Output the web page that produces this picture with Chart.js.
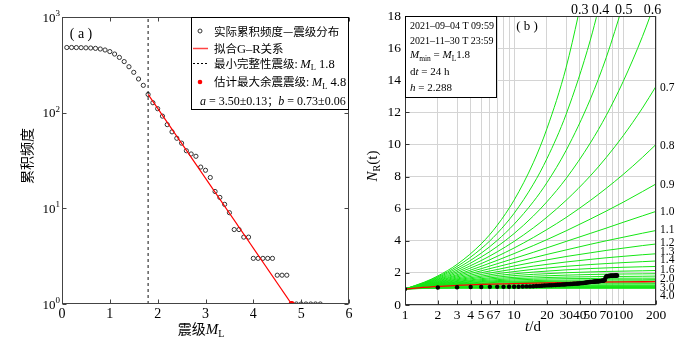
<!DOCTYPE html>
<html><head><meta charset="utf-8">
<script src="https://cdn.jsdelivr.net/npm/chart.js@4.4.1/dist/chart.umd.min.js"></script>
<style>
html,body{margin:0;padding:0;background:#fff;}
#wrap{position:relative;width:700px;height:340px;overflow:hidden;}
#cA{position:absolute;left:0;top:0;}
#cB{position:absolute;left:355px;top:0;}
</style></head><body>
<div id="wrap">
<canvas id="cA" width="355" height="340"></canvas>
<canvas id="cB" width="345" height="340"></canvas>
</div>
<script>
// ---------------- Panel (a) data ----------------
const magnitudeML = [0.1,0.2,0.3,0.4,0.5,0.6,0.7,0.8,0.9,1.0,1.1,1.2,1.3,1.4,1.5,1.6,1.7,1.8,1.9,2.0,2.1,2.2,2.3,2.4,2.5,2.6,2.7,2.8,2.9,3.0,3.1,3.2,3.3,3.4,3.5,3.6,3.7,3.8,3.9,4.0,4.1,4.2,4.3,4.4,4.5,4.6,4.7,4.8,4.9,5.0,5.1,5.2,5.3,5.4];
const cumulativeN = [480,480,479,478,476,474,470,463,452,435,410,378,342,302,264,225,193,155,127,110,92,75,63,54,48,40,37,35,27,25,21,15,13,11,9,6,6,5,5,3,3,3,3,3,2,2,2,1,1,1,1,1,1,1];
const fitM = [1.8, 4.8];
const fitN = [155, 1];
const mcLineM = [1.8, 1.8];
const mcLineN = [1, 1000];
const maxAftershockM = [4.8];
const maxAftershockN = [1];
const xTicksA = [0,1,2,3,4,5,6];
const yTicksA = [1,10,100,1000];
const yTickExpA = ['0','1','2','3'];

// ---------------- Panel (b) data ----------------
const tGridA = [1,1.5,2,3,5,7,10,15,20,30,50,70,100,150,200];
const tGridB = [1,1.5,2,3,5,7,10,20,50,200];
const p03 = [1,1.42,1.81,2.53,3.81,4.96,6.53,8.86,10.98,14.80,21.47];
const p04 = [1,1.40,1.76,2.40,3.51,4.46,5.71,7.52,9.11,11.88,16.50,20.41];
const p05 = [1,1.37,1.71,2.28,3.23,4.02,5.03,6.43,7.62,9.63,12.82,15.42,18.71];
const p06 = [1,1.35,1.66,2.17,2.99,3.64,4.45,5.54,6.43,7.88,10.09,11.81,13.92,16.71,18.99];
const p07 = [1,1.33,1.61,2.07,2.77,3.31,3.96,4.80,5.47,6.52,8.04,9.19,10.54,12.26,13.62];
const p08 = [1,1.31,1.57,1.98,2.58,3.03,3.55,4.20,4.70,5.45,6.51,7.27,8.13,9.19,10.00];
const p09 = [1,1.29,1.53,1.89,2.41,2.78,3.20,3.70,4.07,4.62,5.35,5.85,6.40,7.06,7.54];
const p10 = [1,1.27,1.49,1.82,2.26,2.57,2.90,3.28,3.56,3.96,4.46,4.79,5.15,5.55,5.83];
const p11 = [1,1.26,1.45,1.75,2.13,2.38,2.64,2.94,3.15,3.43,3.78,4.00,4.22,4.47,4.64];
const p12 = [1,1.24,1.42,1.68,2.01,2.21,2.43,2.66,2.81,3.02,3.25,3.40,3.54,3.70,3.80];
const p13 = [1,1.23,1.39,1.62,1.90,2.07,2.24,2.42,2.53,2.68,2.84,2.94,3.03,3.13,3.19];
const p14 = [1,1.21,1.36,1.57,1.80,1.95,2.08,2.22,2.30,2.41,2.52,2.58,2.64,2.70,2.74];
const p15 = [1,1.20,1.33,1.52,1.72,1.84,1.94,2.05,2.11,2.19,2.27,2.31,2.35,2.38,2.40];
const p16 = [1,1.18,1.31,1.47,1.64,1.74,1.83,1.91,1.95,2.01,2.06,2.09,2.11,2.13,2.15];
const p17 = [1,1.17,1.29,1.43,1.58,1.66,1.72,1.79,1.82,1.86,1.90,1.92,1.93,1.94,1.95];
const p18 = [1,1.16,1.26,1.39,1.52,1.58,1.64,1.68,1.71,1.74,1.76,1.78,1.78,1.79,1.80];
const p19 = [1,1.15,1.24,1.36,1.46,1.52,1.56,1.60,1.62,1.64,1.65,1.66,1.67,1.67,1.67];
const p20 = [1,1.14,1.23,1.32,1.42,1.46,1.49,1.52,1.54,1.55,1.56,1.57,1.57,1.57,1.58];
const p21 = [1,1.13,1.21,1.30,1.37,1.41,1.44,1.47,1.49,1.50];
const p22 = [1,1.12,1.19,1.27,1.34,1.36,1.39,1.41,1.42,1.43];
const p24 = [1,1.10,1.16,1.22,1.27,1.29,1.30,1.32,1.32,1.33];
const p26 = [1,1.09,1.14,1.18,1.22,1.23,1.24,1.25,1.25,1.25];
const p28 = [1,1.08,1.12,1.15,1.18,1.19,1.19,1.20,1.20,1.20];
const p30 = [1,1.07,1.10,1.13,1.14,1.15,1.15,1.16,1.16,1.16];
const p32 = [1,1.06,1.08,1.10,1.12,1.12,1.12,1.12,1.12,1.12];
const p34 = [1,1.05,1.07,1.09,1.09,1.10,1.10,1.10,1.10,1.10];
const p36 = [1,1.04,1.06,1.07,1.08,1.08,1.08,1.08,1.08,1.08];
const p38 = [1,1.04,1.05,1.06,1.06,1.06,1.06,1.06,1.06,1.06];
const p40 = [1,1.03,1.04,1.05,1.05,1.05,1.05,1.05,1.05,1.05];
const greenCurves = [
  [tGridA,p03],[tGridA,p04],[tGridA,p05],[tGridA,p06],[tGridA,p07],[tGridA,p08],[tGridA,p09],
  [tGridA,p10],[tGridA,p11],[tGridA,p12],[tGridA,p13],[tGridA,p14],[tGridA,p15],[tGridA,p16],
  [tGridA,p17],[tGridA,p18],[tGridA,p19],[tGridA,p20],
  [tGridB,p21],[tGridB,p22],[tGridB,p24],[tGridB,p26],[tGridB,p28],[tGridB,p30],[tGridB,p32],
  [tGridB,p34],[tGridB,p36],[tGridB,p38],[tGridB,p40]
];
const redT = [1,2,3,5,10,20,50,100,200];
const redN = [1,1.16,1.22,1.28,1.33,1.38,1.42,1.44,1.45];
const dailyNR = [1.00,1.09,1.11,1.12,1.12,1.13,1.13,1.13,1.14,1.14,
  1.14,1.15,1.16,1.16,1.17,1.18,1.19,1.20,1.21,1.22,
  1.23,1.23,1.24,1.25,1.26,1.26,1.27,1.28,1.28,1.29,
  1.30,1.30,1.31,1.31,1.32,1.33,1.33,1.34,1.34,1.35,
  1.36,1.36,1.37,1.38,1.39,1.40,1.41,1.42,1.43,1.43,
  1.44,1.44,1.45,1.45,1.46,1.46,1.47,1.47,1.48,1.48,
  1.49,1.49,1.50,1.51,1.51,1.52,1.54,1.56,1.72,1.78,
  1.80,1.80,1.81,1.81,1.81,1.82,1.82,1.82,1.82,1.83,
  1.83,1.83,1.83,1.83,1.84,1.84,1.84,1.84];
const xGridTicksB = [1,2,3,4,5,6,7,8,9,10,20,30,40,50,60,70,80,90,100,200];
const xLabelTicksB = [1,2,3,4,5,6,7,10,20,30,40,50,70,100,200];
const topLabels = ['0.3','0.4','0.5','0.6'];
const topLabelT = [40,62,101,186];
const rightLabels = ['0.7','0.8','0.9','1.0','1.1','1.2','1.3','1.4','1.6','2.0','3.0','4.0'];
const rightLabelY = [13.56,9.96,7.53,5.88,4.73,3.90,3.36,2.84,2.22,1.66,1.10,0.60];

// ---------------- helpers ----------------
const SERIF = '"Liberation Serif","Times New Roman",serif';
const CJK = '"Noto Sans CJK SC","Noto Sans CJK JP",sans-serif';
function richWidth(ctx, segs){let w=0;for(const s of segs){ctx.font=s.f;w+=ctx.measureText(s.t).width;}return w;}
function drawRich(ctx, x, y, segs, align){
  const w = richWidth(ctx, segs);
  let cx = align==='center' ? x-w/2 : (align==='right' ? x-w : x);
  ctx.textAlign='left'; ctx.textBaseline='alphabetic';
  for(const s of segs){ctx.font=s.f;ctx.fillStyle=s.c||'#000';ctx.fillText(s.t,cx,y+(s.dy||0));cx+=ctx.measureText(s.t).width;}
}
const pts = (xs, ys) => ys.map((v,i)=>({x:xs[i], y:v}));

// ---------------- Panel (a) ----------------
const decorA = {
  id:'decorA',
  afterDraw(chart){
    const {ctx, chartArea:a, scales:{x,y}} = chart;
    ctx.save();
    ctx.strokeStyle='#444'; ctx.lineWidth=1;
    const L=Math.round(a.left)+0.5, R=Math.round(a.right)-0.5, T=Math.round(a.top)+0.5, B=Math.round(a.bottom)-0.5;
    ctx.strokeRect(L,T,R-L,B-T);
    ctx.beginPath();
    for(const v of xTicksA){const px=Math.round(x.getPixelForValue(v))+0.5;ctx.moveTo(px,B);ctx.lineTo(px,B-4);ctx.moveTo(px,T);ctx.lineTo(px,T+4);}
    for(const v of yTicksA){const py=Math.round(y.getPixelForValue(v))+0.5;ctx.moveTo(L,py);ctx.lineTo(L+4,py);ctx.moveTo(R,py);ctx.lineTo(R-4,py);}
    ctx.stroke();
    // y tick labels with superscripts
    yTicksA.forEach((v,i)=>{
      const py=y.getPixelForValue(v);
      ctx.font='9px '+SERIF; const ew=ctx.measureText(yTickExpA[i]).width;
      ctx.textAlign='right'; ctx.textBaseline='alphabetic'; ctx.fillStyle='#000';
      ctx.fillText(yTickExpA[i], 60, py-1);
      ctx.font='13px '+SERIF; ctx.fillText('10', 60-ew, py+4.5);
    });
    // panel tag
    drawRich(ctx, 81, 37.5, [{t:'( a )', f:'14px '+SERIF}], 'center');
    // legend box
    ctx.fillStyle='#fff'; ctx.fillRect(191,17,158,93);
    ctx.strokeStyle='#000'; ctx.strokeRect(191.5,17.5,157,92);
    ctx.beginPath(); ctx.arc(200,31,2,0,Math.PI*2); ctx.strokeStyle='#333'; ctx.stroke();
    drawRich(ctx,214,35.5,[{t:'实际累积频度—震级分布',f:'11.5px '+CJK}],'left');
    ctx.beginPath(); ctx.moveTo(193,48.5); ctx.lineTo(208,48.5); ctx.strokeStyle='#f44'; ctx.lineWidth=1.5; ctx.stroke();
    drawRich(ctx,214,52.5,[{t:'拟合',f:'11.5px '+CJK},{t:'G–R',f:'12.5px '+SERIF},{t:'关系',f:'11.5px '+CJK}],'left');
    ctx.beginPath(); ctx.setLineDash([2,2]); ctx.moveTo(193,63.5); ctx.lineTo(209,63.5); ctx.strokeStyle='#000'; ctx.lineWidth=1; ctx.stroke(); ctx.setLineDash([]);
    drawRich(ctx,214,67.5,[{t:'最小完整性震级: ',f:'11.5px '+CJK},{t:'M',f:'italic 12.5px '+SERIF},{t:'L',f:'8.5px '+SERIF,dy:2.5},{t:' 1.8',f:'12.5px '+SERIF}],'left');
    ctx.beginPath(); ctx.arc(200,82,2.3,0,Math.PI*2); ctx.fillStyle='#f00'; ctx.fill();
    drawRich(ctx,214,86,[{t:'估计最大余震震级: ',f:'11.5px '+CJK},{t:'M',f:'italic 12.5px '+SERIF},{t:'L',f:'8.5px '+SERIF,dy:2.5},{t:' 4.8',f:'12.5px '+SERIF}],'left');
    drawRich(ctx,200,104.5,[{t:'a',f:'italic 12px '+SERIF},{t:' = 3.50±0.13',f:'12px '+SERIF},{t:'；',f:'11px '+CJK},{t:'b',f:'italic 12px '+SERIF},{t:' = 0.73±0.06',f:'12px '+SERIF}],'left');
    // axis titles
    drawRich(ctx,201,334,[{t:'震级',f:'14px '+CJK},{t:'M',f:'italic 15px '+SERIF},{t:'L',f:'10px '+SERIF,dy:3}],'center');
    ctx.save(); ctx.translate(27,156); ctx.rotate(-Math.PI/2);
    drawRich(ctx,0,5,[{t:'累积频度',f:'14px '+CJK}],'center');
    ctx.restore();
    ctx.restore();
  }
};

new Chart(document.getElementById('cA'), {
  type:'scatter',
  data:{datasets:[
    {data:pts(maxAftershockM,maxAftershockN), pointRadius:3, pointBackgroundColor:'#f00', pointBorderWidth:0, showLine:false},
    {data:pts(fitM,fitN), showLine:true, borderColor:'#f00', borderWidth:1.2, pointRadius:0},
    {data:pts(mcLineM,mcLineN), showLine:true, borderColor:'#111', borderWidth:1, borderDash:[3,3], pointRadius:0},
    {data:pts(magnitudeML,cumulativeN), showLine:false, pointRadius:2.1, pointBorderWidth:1, pointBorderColor:'#333', pointBackgroundColor:'rgba(255,255,255,0)'}
  ]},
  options:{
    responsive:false, animation:false, events:[],
    layout:{padding:{left:0,top:17,right:6,bottom:0}},
    plugins:{legend:{display:false},tooltip:{enabled:false}},
    scales:{
      x:{type:'linear',min:0,max:6,
        ticks:{stepSize:1,color:'#000',font:{family:SERIF,size:14},padding:2,maxRotation:0},
        grid:{display:false,drawTicks:false},border:{display:false},
        afterFit:(s)=>{s.height=36;}},
      y:{type:'logarithmic',min:1,max:1000,
        ticks:{display:false},
        grid:{display:false,drawTicks:false},border:{display:false},
        afterBuildTicks:(s)=>{s.ticks=yTicksA.map(v=>({value:v}));},
        afterFit:(s)=>{s.width=62;}}
    }
  },
  plugins:[decorA]
});

// ---------------- Panel (b) ----------------
const decorB = {
  id:'decorB',
  afterDraw(chart){
    const {ctx, chartArea:a, scales:{x,y}} = chart;
    ctx.save();
    const L=Math.round(a.left)+0.5, R=Math.round(a.right)-0.5, T=Math.round(a.top)+0.5, B=Math.round(a.bottom)-0.5;
    ctx.strokeStyle='#333'; ctx.lineWidth=1;
    ctx.strokeRect(L,T,R-L,B-T);
    ctx.beginPath();
    for(let v=0; v<=18; v+=2){const py=Math.round(y.getPixelForValue(v))+0.5;ctx.moveTo(L,py);ctx.lineTo(L+4,py);}
    for(const v of xLabelTicksB){const px=Math.round(x.getPixelForValue(v))+0.5;ctx.moveTo(px,B);ctx.lineTo(px,B-4);}
    ctx.stroke();
    // info box
    ctx.fillStyle='#fff'; ctx.fillRect(51,17,91,81);
    ctx.strokeStyle='#000'; ctx.strokeRect(50.5,16.5,91,81);
    const f='10px '+SERIF, fi='italic 11px '+SERIF, fs='7.5px '+SERIF, fn='11px '+SERIF;
    drawRich(ctx,55,29,[{t:'2021–09–04 T 09:59',f:f}],'left');
    drawRich(ctx,55,43.5,[{t:'2021–11–30 T 23:59',f:f}],'left');
    drawRich(ctx,55,58,[{t:'M',f:fi},{t:'min',f:fs,dy:2.5},{t:' = ',f:fn},{t:'M',f:fi},{t:'L',f:fs,dy:2.5},{t:'1.8',f:fn}],'left');
    drawRich(ctx,55,75,[{t:'d',f:fn},{t:'t',f:fi},{t:' = 24 h',f:fn}],'left');
    drawRich(ctx,55,91,[{t:'h',f:fi},{t:' = 2.288',f:fn}],'left');
    drawRich(ctx,172,29.5,[{t:'( b )',f:'13px '+SERIF}],'center');
    topLabels.forEach((s,i)=>{drawRich(ctx,x.getPixelForValue(topLabelT[i]),14,[{t:s,f:'14px '+SERIF}],'center');});
    rightLabels.forEach((s,i)=>{drawRich(ctx,a.right+4,y.getPixelForValue(rightLabelY[i])+4,[{t:s,f:'11.5px '+SERIF}],'left');});
    drawRich(ctx,178,331,[{t:'t',f:'italic 15px '+SERIF},{t:'/d',f:'15px '+SERIF}],'center');
    ctx.save(); ctx.translate(17,166); ctx.rotate(-Math.PI/2);
    drawRich(ctx,0,5,[{t:'N',f:'italic 15px '+SERIF},{t:'R',f:'10px '+SERIF,dy:3},{t:'(t)',f:'15px '+SERIF}],'center');
    ctx.restore();
    ctx.restore();
  }
};

const dsB = [];
dsB.push({data:dailyNR.map((v,i)=>({x:i+1,y:v})), showLine:false, pointRadius:2.2, pointBackgroundColor:'#000', pointBorderWidth:0});
dsB.push({data:pts(redT,redN), showLine:true, borderColor:'#f00', borderWidth:1.3, pointRadius:0, cubicInterpolationMode:'monotone'});
for(const [tg,vals] of greenCurves){
  dsB.push({data:pts(tg,vals), showLine:true, borderColor:'rgb(20,230,20)', borderWidth:1, pointRadius:0, cubicInterpolationMode:'monotone'});
}

new Chart(document.getElementById('cB'), {
  type:'scatter',
  data:{datasets:dsB},
  options:{
    responsive:false, animation:false, events:[],
    layout:{padding:{left:0,top:16,right:44,bottom:0}},
    plugins:{legend:{display:false},tooltip:{enabled:false}},
    scales:{
      x:{type:'logarithmic',min:1,max:200,
        ticks:{autoSkip:false,maxRotation:0,minRotation:0,color:'#000',font:{family:SERIF,size:13.5},padding:2,
          callback:(v)=>xLabelTicksB.includes(v)?String(v):''},
        grid:{color:'#d4d4d4',lineWidth:1,drawTicks:false},border:{display:false},
        afterBuildTicks:(s)=>{s.ticks=xGridTicksB.map(v=>({value:v}));},
        afterFit:(s)=>{s.height=35;}},
      y:{type:'linear',min:0,max:18,
        ticks:{stepSize:2,color:'#000',font:{family:SERIF,size:13.5},padding:4},
        grid:{color:'#d4d4d4',lineWidth:1,drawTicks:false},border:{display:false},
        afterFit:(s)=>{s.width=50;}}
    }
  },
  plugins:[decorB]
});
</script>
</body></html>
